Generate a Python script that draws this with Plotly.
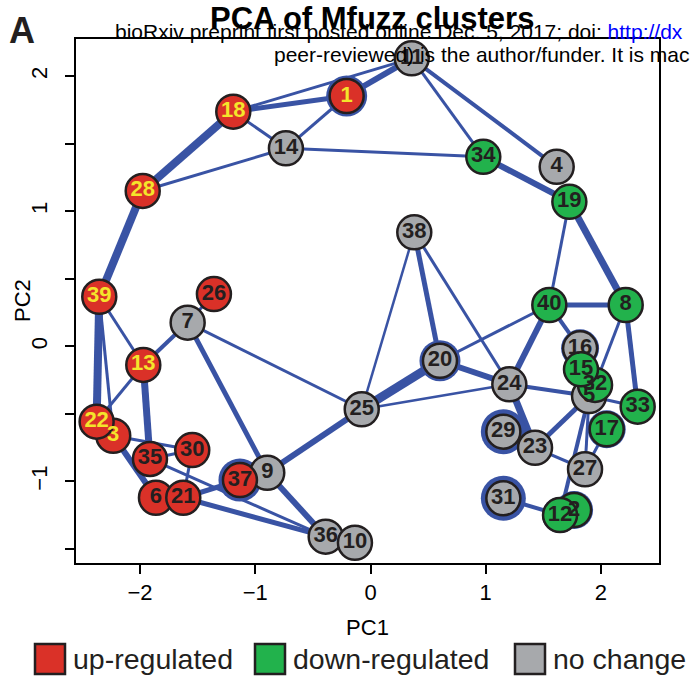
import plotly.graph_objects as go

# ---------------- data ----------------
# cluster ids in drawing order (later ones drawn on top)
clusters = [1, 11, 18, 14, 28, 38, 34, 4, 19, 40, 8, 16, 5, 32, 15, 33, 17, 20, 24,
            29, 23, 27, 31, 2, 12, 39, 26, 7, 13, 3, 22, 35, 30, 25, 9, 37, 6, 21, 36, 10]
pc1 = [-0.207, 0.358, -1.191, -0.734, -1.977, 0.380, 0.979, 1.616, 1.726, 1.552, 2.215,
       1.819, 1.897, 1.949, 1.827, 2.319, 2.050, 0.603, 1.205,
       1.153, 1.428, 1.862, 1.153, 1.767, 1.645, -2.354, -1.359, -1.587, -1.972, -2.233,
       -2.377, -1.914, -1.547, -0.076, -0.896, -1.133, -1.862, -1.625, -0.389, -0.135]
pc2 = [1.853, 2.132, 1.737, 1.466, 1.150, 0.844, 1.403, 1.329, 1.070, 0.306, 0.306,
       -0.015, -0.368, -0.286, -0.170, -0.447, -0.614, -0.107, -0.281,
       -0.632, -0.751, -0.910, -1.125, -1.212, -1.249, 0.367, 0.387, 0.175, -0.138, -0.662,
       -0.558, -0.834, -0.768, -0.466, -0.936, -0.990, -1.121, -1.121, -1.409, -1.454]
status = ["up", "none", "up", "none", "up", "none", "down", "none", "down", "down", "down",
          "none", "none", "down", "down", "down", "down", "none", "none",
          "none", "none", "none", "none", "down", "down", "up", "up", "none", "up", "up",
          "up", "up", "up", "none", "none", "up", "up", "up", "none", "none"]
yellow_labels = [1, 18, 28, 39, 13, 22, 3]

# nodes with a blue self-loop halo and halo diameter
halo_nodes = [1, 20, 29, 31, 37, 16, 17, 2, 12]
halo_sizes = [41, 41, 45, 45, 43, 38, 38, 38, 36]

# edges: (from, to, width)
edges = [
    (1, 11, 6), (18, 11, 3), (18, 1, 5), (14, 1, 3), (18, 14, 3), (18, 28, 8),
    (28, 14, 3), (14, 34, 3), (28, 39, 8), (11, 34, 3), (11, 4, 4), (34, 19, 6),
    (19, 40, 3), (19, 8, 7), (38, 25, 2.5), (38, 20, 5), (38, 24, 3),
    (40, 8, 5), (40, 20, 3), (40, 24, 6), (40, 16, 4), (8, 33, 5), (8, 32, 3),
    (20, 25, 9), (20, 24, 6), (24, 25, 2.5), (24, 5, 4), (24, 23, 7),
    (23, 5, 5), (23, 27, 3), (5, 12, 4), (5, 27, 3), (27, 17, 3), (31, 12, 4),
    (33, 5, 3), (39, 22, 8), (39, 3, 3), (39, 13, 3), (13, 7, 4), (13, 22, 3),
    (13, 35, 7), (7, 26, 3), (7, 25, 3), (7, 9, 5), (3, 6, 6), (3, 30, 3),
    (35, 30, 3), (35, 36, 3), (30, 21, 3), (21, 37, 5), (21, 36, 5), (9, 36, 6),
    (9, 25, 6),
]

legend_labels = ["up-regulated", "down-regulated", "no change"]
x_ticks = [-2, -1, 0, 1, 2]
y_ticks = [-1.5, -1, -0.5, 0, 0.5, 1, 1.5, 2]

# ---------------- styles ----------------
FONT = "Liberation Sans, Arial, sans-serif"
COL = {"up": "#DA3128", "down": "#22B24C", "none": "#A7A9AC"}
EDGE = "#3953A4"

pos = {c: (x, y) for c, x, y in zip(clusters, pc1, pc2)}

fig = go.Figure()

for a, b, w in edges:
    (x0, y0), (x1, y1) = pos[a], pos[b]
    fig.add_trace(go.Scatter(x=[x0, x1], y=[y0, y1], mode="lines",
                             line=dict(color=EDGE, width=w),
                             hoverinfo="skip", showlegend=False))

fig.add_trace(go.Scatter(
    x=[pos[c][0] for c in halo_nodes], y=[pos[c][1] for c in halo_nodes],
    mode="markers", marker=dict(size=halo_sizes, color=EDGE, opacity=1, line=dict(width=0)),
    hoverinfo="skip", showlegend=False))

fig.add_trace(go.Scatter(
    x=pc1, y=pc2, mode="markers+text",
    text=[str(c) for c in clusters],
    textposition="middle center",
    textfont=dict(family=FONT, size=22, weight="bold",
                  color=["#F4E52B" if c in yellow_labels else "#231F20" for c in clusters]),
    marker=dict(size=34, opacity=1, color=[COL[s] for s in status],
                line=dict(color="#231F20", width=2.5)),
    hoverinfo="text", showlegend=False))

axis_common = dict(showline=True, mirror=True, linecolor="black", linewidth=2,
                   ticks="outside", ticklen=9, tickwidth=2, tickcolor="black",
                   showgrid=False, zeroline=False,
                   tickfont=dict(family=FONT, size=22, color="black"))

fig.update_xaxes(range=[-2.556, 2.504], tickvals=x_ticks,
                 ticktext=[f"{v}".replace("-", "\u2212") for v in x_ticks],
                 title=dict(text="PC1", font=dict(family=FONT, size=22, color="black"),
                            standoff=15),
                 **axis_common)
fig.update_yaxes(range=[-1.604, 2.275], tickvals=y_ticks,
                 ticktext=[(f"{int(v)}".replace("-", "\u2212") if v == int(v) else "") for v in y_ticks],
                 tickangle=-90, ticklabelstandoff=9,
                 **axis_common)

W, L, T, B = 693, 76, 39, 116
pw, ph = W - L - 34, 679 - T - B
def px2x(px):
    return (px - L) / pw
def py2y(py):
    return (679 - B - py) / ph

annotations = [
    dict(text="<b>PCA of Mfuzz clusters</b>", x=0.507, y=1.040, xref="paper", yref="paper",
         showarrow=False, font=dict(family=FONT, size=31, color="black"),
         xanchor="center", yanchor="middle"),
    dict(text="<b>A</b>", x=-0.092, y=1.017, xref="paper", yref="paper",
         showarrow=False, font=dict(family=FONT, size=36, color="#231F20"),
         xanchor="center", yanchor="middle"),
    dict(text='bioRxiv preprint first posted online Dec. 5, 2017; doi: <span style="color:#0000FF">http://dx</span>',
         x=0.0635, y=1.0134, xref="paper", yref="paper", showarrow=False,
         font=dict(family=FONT, size=21, color="black"), xanchor="left", yanchor="middle"),
    dict(text="peer-reviewed) is the author/funder. It is mac",
         x=0.336, y=0.9695, xref="paper", yref="paper", showarrow=False,
         font=dict(family=FONT, size=21, color="black"), xanchor="left", yanchor="middle"),
    dict(text="PC2", x=px2x(22), y=0.5, xref="paper", yref="paper", showarrow=False,
         textangle=-90, font=dict(family=FONT, size=22, color="black"),
         xanchor="center", yanchor="middle"),
]

shapes = []
leg_sq_left = [35, 255, 515]
leg_txt_left = [71, 291, 551]
leg_cols = [COL["up"], COL["down"], COL["none"]]
for sl, tl, col, lab in zip(leg_sq_left, leg_txt_left, leg_cols, legend_labels):
    shapes.append(dict(type="rect", xref="paper", yref="paper",
                       x0=px2x(sl), x1=px2x(sl + 30), y0=py2y(674), y1=py2y(644),
                       fillcolor=col, line=dict(color="#231F20", width=2.5)))
    annotations.append(dict(text=lab, x=px2x(tl), y=py2y(659), xref="paper", yref="paper",
                            showarrow=False, xanchor="left", yanchor="middle",
                            font=dict(family=FONT, size=28.5, color="#231F20")))

fig.update_layout(width=W, height=679, margin=dict(l=L, r=34, t=T, b=B),
                  plot_bgcolor="white", paper_bgcolor="white",
                  annotations=annotations, shapes=shapes, showlegend=False)

fig.write_html("out.html")
